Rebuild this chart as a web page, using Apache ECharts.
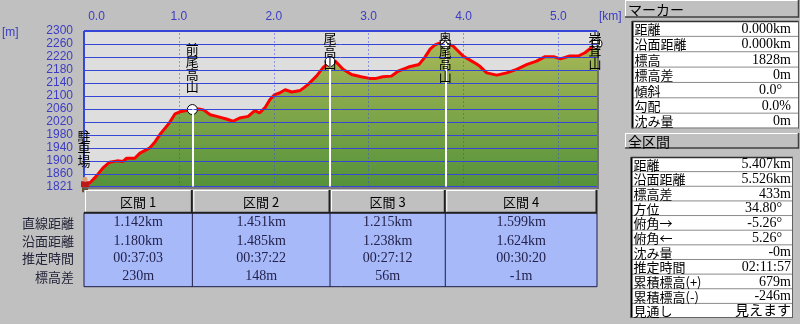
<!DOCTYPE html>
<html><head><meta charset="utf-8">
<script src="https://cdn.jsdelivr.net/npm/echarts@6/dist/echarts.min.js"></script>
<style>html,body{margin:0;padding:0;background:#c0c0c0;}#c{width:800px;height:324px;}</style>
</head><body><div id="c"></div>
<script>
// ---- data ----
const dist = [0,0.06,0.13,0.20,0.27,0.35,0.41,0.45,0.535,0.59,0.69,0.75,0.80,0.90,0.96,1.01,1.08,1.142,1.21,1.26,1.33,1.40,1.50,1.57,1.64,1.73,1.80,1.85,1.906,1.96,2.01,2.06,2.12,2.19,2.28,2.36,2.45,2.52,2.593,2.65,2.73,2.82,2.92,3.01,3.08,3.15,3.24,3.31,3.42,3.53,3.59,3.65,3.70,3.76,3.808,3.89,3.995,4.10,4.17,4.245,4.35,4.455,4.56,4.67,4.77,4.86,4.95,5.02,5.12,5.21,5.28,5.35,5.407];
const elev = [1828,1832,1853,1878,1896,1900,1898,1908,1908,1924,1939,1959,1981,2017,2045,2051,2055,2058,2060,2057,2042,2037,2029,2022,2032,2037,2055,2048,2063,2089,2104,2109,2119,2112,2117,2135,2161,2187,2206,2207,2182,2166,2159,2154,2154,2159,2161,2176,2189,2197,2218,2245,2257,2264,2262,2254,2223,2205,2192,2171,2164,2171,2182,2197,2207,2221,2221,2214,2223,2223,2233,2249,2261];
const xMin = 0, xMax = 5.407;
const yMin = 1821, yMax = 2300;
const xTickValues = [0,1,2,3,4,5];
const yTickValues = [1821,1860,1900,1940,1980,2020,2060,2100,2140,2180,2220,2260,2300];
const landmarkNames = ['駐車場','前尾高山','尾高山','奥尾高山','岩茸山'];
const landmarkDist = [0,1.142,2.593,3.808,5.407];
const landmarkElev = [1828,2058,2206,2262,2261];
const sectionNames = ['区間 1','区間 2','区間 3','区間 4'];
const rowLabels = ['直線距離','沿面距離','推定時間','標高差'];
const straightDist = ['1.142km','1.451km','1.215km','1.599km'];
const surfaceDist = ['1.180km','1.485km','1.238km','1.624km'];
const estTime = ['00:37:03','00:37:22','00:27:12','00:30:20'];
const elevDiff = ['230m','148m','56m','-1m'];
const markerTitle = 'マーカー';
const markerLabels = ['距離','沿面距離','標高','標高差','傾斜','勾配','沈み量'];
const markerValues = ['0.000km','0.000km','1828m','0m','0.0°','0.0%','0m'];
const totalTitle = '全区間';
const totalLabels = ['距離','沿面距離','標高差','方位','俯角→','俯角←','沈み量','推定時間','累積標高(+)','累積標高(-)','見通し'];
const totalValues = ['5.407km','5.526km','433m','34.80°','-5.26°','5.26°','-0m','02:11:57','679m','-246m','見えます'];

// ---- chart ----
const chart = echarts.init(document.getElementById('c'), null, {renderer:'canvas'});
const AX = '#3c3cc4';
const GRIDC = '#3646d6';
const pts = dist.map((d,i)=>[d, elev[i]]);

const markLines = [];
yTickValues.forEach(v=>markLines.push({yAxis:v, lineStyle:{color:GRIDC, width: v===yMax?2:1, type:'solid'}}));
xTickValues.filter(v=>v>0).forEach(v=>markLines.push({xAxis:v, lineStyle:{color:'#3a4ae0', width:1, type:[1,3]}}));
markLines.push({xAxis:0, lineStyle:{color:GRIDC, width:2, type:'solid'}});
for (let i=1;i<landmarkDist.length-1;i++){
  markLines.push([{coord:[landmarkDist[i], yMin], lineStyle:{color:'#ffffff', width:2, type:'solid'}},{coord:[landmarkDist[i], landmarkElev[i]]}]);
}

chart.setOption({
  animation:false,
  backgroundColor:'#c0c0c0',
  grid:{left:84, top:31, width:513, height:155.5, show:true, backgroundColor:'#dedede', borderWidth:0, outerBoundsMode:'none'},
  xAxis:{type:'value', min:xMin, max:xMax, position:'top',
    axisLine:{show:false}, axisTick:{show:false}, splitLine:{show:false},
    axisLabel:{customValues:xTickValues, margin:8, color:AX, fontSize:12, fontFamily:'Liberation Sans',
      formatter:v=> v===0 ? '{p|0.0}' : v.toFixed(1),
      rich:{p:{padding:[0,0,0,25], color:AX, fontSize:12, fontFamily:'Liberation Sans'}}}},
  yAxis:{type:'value', min:yMin, max:yMax,
    axisLine:{show:false}, axisTick:{show:false}, splitLine:{show:false},
    axisLabel:{customValues:yTickValues, margin:11, color:AX, fontSize:12, fontFamily:'Liberation Sans',
      formatter:v=>String(v)}},
  series:[
    {type:'line', data:pts, symbol:'none', z:1, lineStyle:{width:0},
     areaStyle:{origin:'start', opacity:1, color:new echarts.graphic.LinearGradient(0,0,0,1,[{offset:0,color:'#a8b858'},{offset:1,color:'#55923a'}])},
     markLine:{silent:true, symbol:'none', label:{show:false}, emphasis:{disabled:true}, data:markLines}},
    {type:'line', data:pts, symbol:'none', z:3, lineStyle:{color:'#ff0000', width:3}},
    {type:'scatter', z:4, symbol:'circle', symbolSize:10,
     itemStyle:{color:'#ffffff', borderColor:'#000000', borderWidth:1, opacity:1},
     data: landmarkDist.slice(1).map((d,i)=>[d, landmarkElev[i+1]])}
  ]
});

// ---- graphics derived from axis scales ----
const P = (x,y)=>chart.convertToPixel({gridIndex:0},[x,y]);
const plotL = P(xMin,yMin)[0], plotR = P(xMax,yMin)[0], plotT = P(xMin,yMax)[1], plotB = P(xMin,yMin)[1];
const g = [];
const CJK = '"Noto Sans CJK JP"';
const SER = '"Liberation Serif","Noto Sans CJK JP"';
function line(x1,y1,x2,y2,stroke,w){g.push({type:'line',silent:true,z:50,shape:{x1,y1,x2,y2},style:{stroke,lineWidth:w||1}});}
function rect(x,y,w,h,fill,stroke,lw){g.push({type:'rect',silent:true,z:40,shape:{x,y,width:w,height:h},style:{fill,stroke:stroke||null,lineWidth:lw||0}});}
function text(x,y,t,font,fill,align,va,lh){g.push({type:'text',silent:true,z:60,x,y,style:{text:t,font,fill,align:align||'left',verticalAlign:va||'middle',lineHeight:lh}});}

// frame shadow
line(plotR+1, plotT, plotR+1, plotB+2, '#707070', 2);
line(plotL, plotB+1.5, plotR+2, plotB+1.5, '#606060', 1.5);

// unit labels
text(2, 33, '[m]', '12px "Liberation Sans"', AX, 'left', 'middle');
text(599, 17, '[km]', '12px "Liberation Sans"', AX, 'left', 'middle');

// landmark vertical labels
landmarkNames.forEach((n,i)=>{
  const p = P(landmarkDist[i], landmarkElev[i]);
  const lh = 12.5, h = n.length*lh;
  let top = p[1] - 17 - h;
  if (top < plotT + 1) top = plotT + 1;
  text(p[0]+(i===landmarkNames.length-1?-2:0), top, n.split('').join('\n'), '13px '+CJK, '#000000', 'center', 'top', lh);
});

// hiker icon at start
(function(){
  const p = P(landmarkDist[0], landmarkElev[0]);
  g.push({type:'circle',silent:true,z:45,shape:{cx:p[0]+1,cy:p[1]-5,r:2.5},style:{fill:'#e0a070'}});
  rect(p[0]-3, p[1]-3, 8, 6, '#c01818');
  rect(p[0]-2, p[1]+3, 6, 5, '#6a5030');
})();

// section table
const bx = landmarkDist.map(d=>P(d,yMin)[0]);
const hTop = 190, hBot = 212.7, dBot = 286.7;
rect(bx[0], hBot, bx[4]-bx[0], dBot-hBot, '#a8b9fa', '#1c1c44', 1);
for (let i=0;i<4;i++){
  rect(bx[i], hTop, bx[i+1]-bx[i], hBot-hTop, '#c0c0c0');
  line(bx[i]+1, hTop+0.5, bx[i+1]-1, hTop+0.5, '#ffffff', 1);
  line(bx[i]+1.5, hTop, bx[i]+1.5, hBot, '#ffffff', 1);
  line(bx[i+1]-0.5, hTop, bx[i+1]-0.5, hBot, '#202020', 2);
  text((bx[i]+bx[i+1])/2, (hTop+hBot)/2+1, sectionNames[i], '13px '+CJK, '#000000', 'center', 'middle');
  if (i>0) line(bx[i], hBot, bx[i], dBot, '#1c1c44', 1);
}
line(bx[0], hBot, bx[4], hBot, '#202020', 2);
const rowY = [222.7, 241, 258.5, 276.7];
const cols = [straightDist, surfaceDist, estTime, elevDiff];
rowLabels.forEach((l,r)=>{
  text(74, rowY[r], l, '13px '+CJK, '#24243a', 'right', 'middle');
  for (let i=0;i<4;i++) text((bx[i]+bx[i+1])/2, rowY[r], cols[r][i], '14px '+SER, '#22224a', 'center', 'middle');
});

// right panels
function button(x,y,w,h,t){
  rect(x,y,w,h,'#c0c0c0');
  line(x,y+0.5,x+w,y+0.5,'#ffffff',1);
  line(x+0.5,y,x+0.5,y+h,'#ffffff',1);
  line(x,y+h-0.5,x+w,y+h-0.5,'#404040',1.5);
  line(x+w-0.5,y,x+w-0.5,y+h,'#404040',1.5);
  text(x+3, y+h/2+0.5, t, '14px '+CJK, '#000000', 'left', 'middle');
}
function table(x,y,w,rh,labels,values,valRight){
  const h = rh*labels.length;
  rect(x,y,w,h,'#ffffff');
  labels.forEach((l,i)=>{
    const cy = y + (i+0.5)*rh;
    if (i>0) line(x, y+i*rh, x+w, y+i*rh, '#8a8a8a', 1);
    text(x+2.5, cy+0.5, l, '13px '+CJK, '#000000', 'left', 'middle');
    const v = values[i];
    text(v.endsWith('°') ? valRight-9 : valRight, cy+0.5, v, '14px '+SER, '#000000', 'right', 'middle');
  });
  line(x+0.5, y, x+0.5, y+h, '#000000', 2);
  line(x, y+0.5, x+w, y+0.5, '#303030', 1.5);
  line(x+w-0.5, y, x+w-0.5, y+h, '#606060', 1);
  line(x, y+h-0.5, x+w, y+h-0.5, '#606060', 1);
}
button(625, 0, 174, 17.5, markerTitle);
table(632, 21, 167, 15.36, markerLabels, markerValues, 791);
button(625, 133, 174, 15.5, totalTitle);
table(631, 157, 162, 14.64, totalLabels, totalValues, 791);

chart.setOption({graphic:g});
</script></body></html>
